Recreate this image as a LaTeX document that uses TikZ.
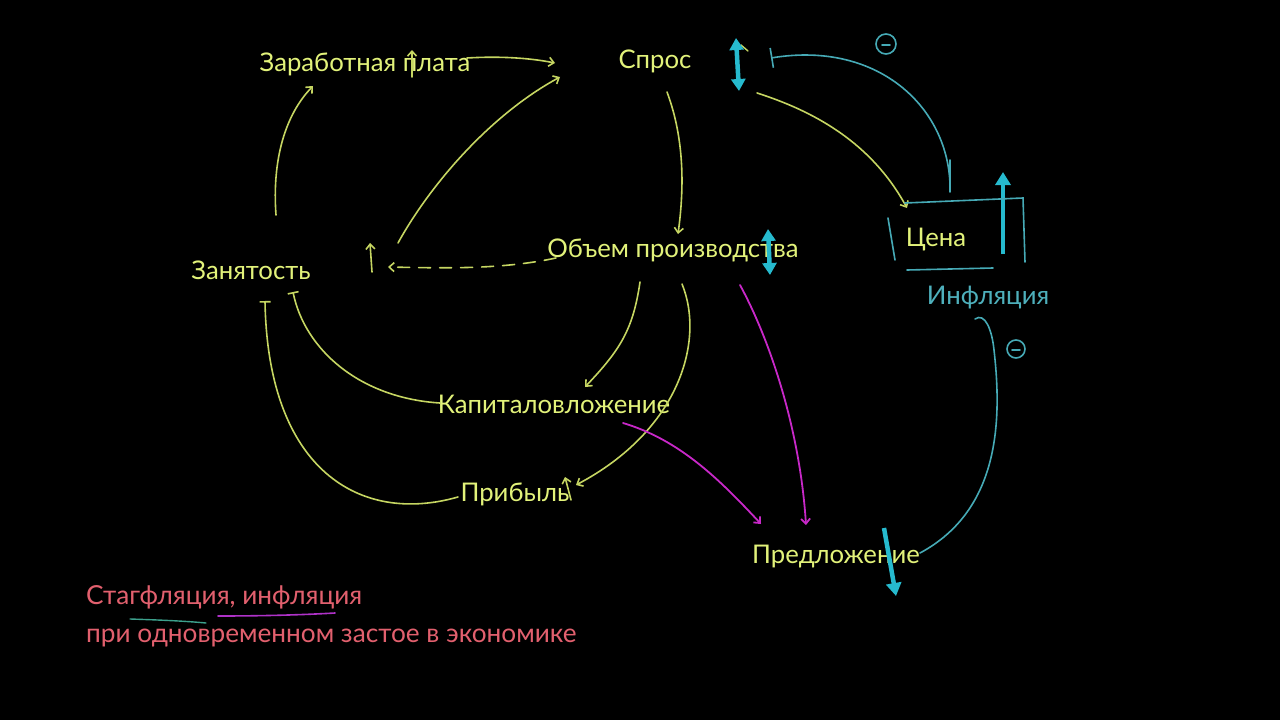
\documentclass[tikz,border=0pt]{standalone}
\usepackage{fontspec}
\setmainfont{Lato}
\usetikzlibrary{arrows.meta}
\definecolor{ytext}{RGB}{226,242,122}
\definecolor{yline}{RGB}{198,214,98}
\definecolor{cyanarr}{RGB}{38,186,206}
\definecolor{tealline}{RGB}{70,170,182}
\definecolor{tealtext}{RGB}{78,176,188}
\definecolor{magline}{RGB}{200,40,200}
\definecolor{pinktext}{RGB}{226,96,110}
\definecolor{ulteal}{RGB}{60,160,140}
\definecolor{ulpurple}{RGB}{175,50,200}
\tikzset{
  lbl/.style={text=ytext, inner sep=0pt, font=\fontsize{25.7}{30}\selectfont},
  note/.style={text=pinktext, inner sep=0pt, anchor=west, font=\fontsize{26.2}{30}\selectfont},
  yl/.style={draw=yline, line width=1.6pt, line cap=round},
  yarr/.style={yl, -{Straight Barb[length=5pt,width=9pt,line width=1.6pt]}},
  ybar/.style={yl, -{Bar[width=11pt,line width=1.6pt]}},
  cyarr/.style={draw=cyanarr, line width=4.5pt, -{Triangle[length=13pt,width=15pt]}},
  cydbl/.style={draw=cyanarr, line width=4.5pt, {Triangle[length=12pt,width=14pt]}-{Triangle[length=12pt,width=14pt]}},
  tl/.style={draw=tealline, line width=1.6pt, line cap=round},
  marr/.style={draw=magline, line width=1.8pt, line cap=round, -{Straight Barb[length=5pt,width=9pt,line width=1.8pt]}},
}
\begin{document}
\begin{tikzpicture}[x=1pt,y=-1pt]
\fill[black] (0,0) rectangle (1280,720);
\useasboundingbox (0,0) rectangle (1280,720);

% nodes
\node[lbl] (wage) at (365,64) {Заработная плата};
\node[lbl] (demand) at (655,61) {Спрос};
\node[lbl] (output) at (673,250) {Объем производства};
\node[lbl] (empl) at (251,270) {Занятость};
\node[lbl] (invest) at (554,404) {Капиталовложение};
\node[lbl] (profit) at (515,494) {Прибыль};
\node[lbl] (price) at (936,240) {Цена};
\node[lbl, text=tealtext] (infl) at (988,298) {Инфляция};
\node[lbl] (supply) at (836,557) {Предложение};
\node[note] (t1) at (86,597) {Стагфляция, инфляция};
\node[note] (t2) at (86,638) {при одновременном застое в экономике};

% free-end coordinates
\coordinate (eS) at (276,215);
\coordinate (eE) at (313,86);
\coordinate (wS) at (467,58);
\coordinate (wE) at (555,63);
\coordinate (pS) at (412,77);
\coordinate (pE) at (412,50);
\coordinate (cS) at (398,243);
\coordinate (cE) at (560,77);
\coordinate (uS) at (372,272);
\coordinate (uE) at (370,243);
\coordinate (dS) at (556,258);
\coordinate (dE) at (388,267);
\coordinate (sS) at (667,92);
\coordinate (sE) at (678,234);
\coordinate (oS1) at (640,282);
\coordinate (oE1) at (585,387);
\coordinate (oS2) at (682,284);
\coordinate (oE2) at (576,485);
\coordinate (qS) at (571,500);
\coordinate (qE) at (565,477);
\coordinate (iS) at (440,403);
\coordinate (iE) at (293,292);
\coordinate (rS) at (458,497);
\coordinate (rE) at (265,301);
\coordinate (spS) at (757,93);
\coordinate (spE) at (907,208);
\coordinate (m1S) at (623,423);
\coordinate (m1E) at (761,524);
\coordinate (m2S) at (740,285);
\coordinate (m2E) at (806,525);
\coordinate (tS) at (950,192);
\coordinate (tE) at (771,58);
\coordinate (fS) at (975,319);
\coordinate (fE) at (920,553);

% yellow connectors
\draw[yarr] (eS) .. controls (272,160) and (285,115) .. (eE);
\draw[yarr] (pS) -- (pE);
\draw[yarr] (wS) .. controls (500,56) and (530,58) .. (wE);
\draw[yarr] (cS) .. controls (430,185) and (490,115) .. (cE);
\draw[yarr] (uS) -- (uE);
\draw[yarr, dash pattern=on 12pt off 9pt] (dS) .. controls (500,270) and (440,268) .. (dE);
\draw[yarr] (sS) .. controls (685,140) and (684,190) .. (sE);
\draw[yarr] (oS1) .. controls (633,330) and (620,350) .. (oE1);
\draw[yarr] (oS2) .. controls (705,340) and (680,430) .. (oE2);
\draw[yarr] (qS) -- (qE);
\draw[ybar] (iS) .. controls (360,398) and (305,350) .. (iE);
\draw[ybar] (rS) .. controls (360,525) and (268,470) .. (rE);
\draw[yarr] (spS) .. controls (810,110) and (870,140) .. (spE);
\draw[yline, line width=1.4pt, line cap=round] (741,45) -- (748,51);

% magenta connectors
\draw[marr] (m1S) .. controls (680,440) and (720,480) .. (m1E);
\draw[marr] (m2S) .. controls (770,340) and (800,430) .. (m2E);

% cyan thick arrows
\draw[cydbl] (736,38) -- (739,91);
\draw[cydbl] (768,229) -- (770,275);
\draw[cyarr] (1003,254) -- (1003,172);
\draw[cyarr] (884,528) -- (896,596);

% teal lines
\draw[tl, -{Bar[width=20pt,line width=1.6pt]}] (tS) .. controls (952,110) and (880,40) .. (tE);
\draw[tl] (fS) .. controls (985,312) and (992,330) .. (994,350)
      .. controls (1002,420) and (1000,510) .. (fE);
\draw[tl] (905,203) -- (1023,198) -- (1025,262);
\draw[tl] (907,270) -- (993,268);
\draw[tl] (888,218) -- (895,260);
\draw[tl] (950,160) -- (950,185);
\draw[tl] (886,44) circle (10);
\draw[tl] (882,45) -- (890,45);
\draw[tl] (1016,349) circle (9);
\draw[tl] (1012,350) -- (1020,350);

% underlines
\draw[draw=ulteal, line width=1.4pt, line cap=round] (130,619) .. controls (160,620) and (185,621) .. (206,623);
\draw[draw=ulpurple, line width=1.6pt, line cap=round] (218,616) .. controls (260,616) and (300,615) .. (335,613);
\end{tikzpicture}
\end{document}
